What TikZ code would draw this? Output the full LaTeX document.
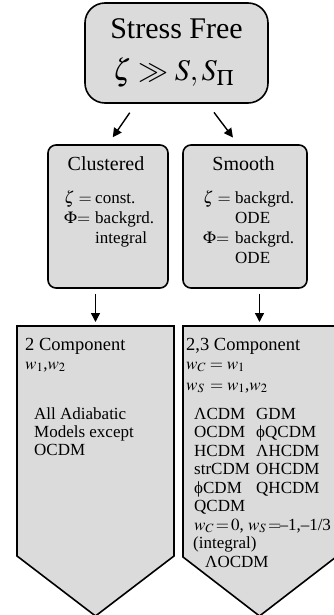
\documentclass[tikz,border=0pt]{standalone}
\usepackage{mathptmx}
\usepackage{fontspec}
\setmainfont{Liberation Serif}
\usetikzlibrary{arrows.meta,calc}
\definecolor{boxgray}{gray}{0.86}
\tikzset{
  box/.style={draw=black, line width=1.6pt, fill=boxgray, rounded corners=8pt, inner sep=0pt},
  pent/.style={draw=black, line width=1.6pt, fill=boxgray, line join=miter},
  link/.style={line width=1.4pt, -{Triangle[length=9pt,width=9pt]}},
  bigtxt/.style={anchor=base, inner sep=0pt, font=\fontsize{30}{36}\selectfont},
  headtxt/.style={anchor=base, inner sep=0pt, font=\fontsize{20}{24}\selectfont},
  comptxt/.style={anchor=base west, inner sep=0pt, font=\fontsize{18.5}{22}\selectfont},
  body/.style={anchor=base west, inner sep=0pt, font=\fontsize{17}{19}\selectfont}
}
\begin{document}
\begin{tikzpicture}[x=1pt,y=-1pt]
\useasboundingbox (0,0) rectangle (333,615);

% top box
\node[box, rounded corners=20pt, minimum width=183pt, minimum height=100pt] (top) at (176.5,53) {};
\node[bigtxt] (topa) at (176.5,39) {Stress Free};
\node[bigtxt] (topb) at (173.5,81) {$\zeta \gg S, S_{\Pi}$};

% second row
\node[box, minimum width=120pt, minimum height=143pt] (clus) at (108,216.5) {};
\node[box, minimum width=124pt, minimum height=143pt] (smooth) at (245,216.5) {};
\node[headtxt] (clush) at (106,170) {Clustered};
\node[headtxt] (smoothh) at (243.5,170) {Smooth};

\node[body] (c1a) at (64,203) {$\zeta =$};
\node[body] (c1b) at (95,203) {const.};
\node[body] (c2a) at (64,223) {$\Phi{=}$};
\node[body] (c2b) at (95,223) {backgrd.};
\node[body] (c3b) at (95,243) {integral};

\node[body] (s1a) at (203,203) {$\zeta =$};
\node[body] (s1b) at (235,203) {backgrd.};
\node[body] (s2b) at (235,223) {ODE};
\node[body] (s3a) at (203,243) {$\Phi{=}$};
\node[body] (s3b) at (235,243) {backgrd.};
\node[body] (s4b) at (235,263) {ODE};

% bottom row: pointed panels
\draw[pent] (17,326) -- (174,326) -- (174,556) -- (95.5,616) -- (17,556) -- cycle;
\draw[pent] (183,326) -- (336,326) -- (336,557) -- (259.5,616) -- (183,557) -- cycle;
\coordinate (twotop) at (95.5,326);
\coordinate (threetop) at (259.5,326);

\node[comptxt] (l1) at (25,350) {2 Component};
\node[body] (l2) at (25,369) {$w_1$,$w_2$};
\node[body] (l4) at (34,419) {All Adiabatic};
\node[body] (l5) at (34,437) {Models except};
\node[body] (l6) at (34,455) {OCDM};

\node[comptxt] (r1) at (186,350) {2,3 Component};
\node[body] (r2) at (186,369) {$w_C = w_1$};
\node[body] (r3) at (186,390) {$w_S\, = w_1$,$w_2$};
\node[body] (r4a) at (194,419) {ΛCDM};
\node[body] (r4b) at (256,419) {GDM};
\node[body] (r5a) at (194,437.5) {OCDM};
\node[body] (r5b) at (256,437.5) {ϕQCDM};
\node[body] (r6a) at (194,456) {HCDM};
\node[body] (r6b) at (256,456) {ΛHCDM};
\node[body] (r7a) at (194,474.5) {strCDM};
\node[body] (r7b) at (256,474.5) {OHCDM};
\node[body] (r8a) at (194,493) {ϕCDM};
\node[body] (r8b) at (256,493) {QHCDM};
\node[body] (r9a) at (194,511.5) {QCDM};
\node[body] (r10) at (194,530) {$w_C\!=\!0$, $w_S\!=\!$–1,–1/3};
\node[body] (r11) at (193,548.5) {(integral)};
\node[body] (r12) at (205,567) {ΛOCDM};

% connectors
\draw[link, shorten <=10.8pt, shorten >=8.4pt] ($(top.south)+(-40.6,0)$) -- (clus.north);
\draw[link, shorten <=10.8pt, shorten >=8.4pt] ($(top.south)+(31,0)$) -- ($(smooth.north)+(-7,0)$);
\draw[link, shorten <=5pt, shorten >=4pt] (clus.south -| twotop) -- (twotop);
\draw[link, shorten <=5pt, shorten >=4pt] (smooth.south -| threetop) -- (threetop);
\end{tikzpicture}
\end{document}
